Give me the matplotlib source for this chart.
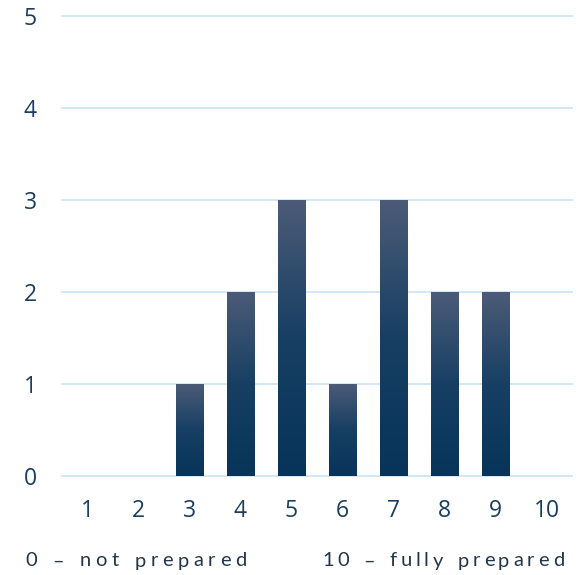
#!/usr/bin/env python3
from __future__ import annotations

import matplotlib

matplotlib.use("Agg")

import matplotlib.pyplot as plt
import numpy as np
from matplotlib.colors import LinearSegmentedColormap
from matplotlib.patches import Rectangle


RATINGS = [1, 2, 3, 4, 5, 6, 7, 8, 9, 10]
COUNTS = [0, 0, 1, 2, 3, 1, 3, 2, 2, 0]
Y_TICKS = [0, 1, 2, 3, 4, 5]
LOW_LABEL = "0 – not prepared"
HIGH_LABEL = "10 – fully prepared"

TEXT_COLOR = "#1b3d5e"
NOTE_COLOR = "#23364b"
GRID_COLOR = "#cfe5f6"
BAR_CMAP = LinearSegmentedColormap.from_list(
    "bar_fade", [(0.0, "#07345a"), (0.5, "#173f63"), (1.0, "#4b5b77")]
)


def gradient_bar(ax, x: float, height: float, width: float) -> None:
    if height <= 0:
        return
    rect = Rectangle((x - width / 2, 0), width, height, facecolor="none",
                     edgecolor="none")
    ax.add_patch(rect)
    grad = np.linspace(0, 1, 256).reshape(-1, 1)
    im = ax.imshow(grad, cmap=BAR_CMAP, origin="lower", aspect="auto",
                   extent=(x - width / 2, x + width / 2, 0, height),
                   interpolation="bilinear", zorder=3)
    im.set_clip_path(rect)


def spaced_text(fig, x_px: float, y_px: float, s: str, tracking: float, **kw) -> None:
    # draw character by character so the letter spacing can be widened
    renderer = fig.canvas.get_renderer()
    W, H = fig.bbox.width, fig.bbox.height
    cursor = x_px
    for ch in s:
        t = fig.text(cursor / W, 1 - y_px / H, ch, ha="left", va="center", **kw)
        w = t.get_window_extent(renderer=renderer).width
        if ch == " ":
            w = kw.get("fontsize", 12) * 0.45
        cursor += w + tracking


def make_plot(path: str) -> None:
    fig = plt.figure(figsize=(5.84, 5.75), dpi=100)
    ax = fig.add_axes((62 / 584, 99 / 575, 510 / 584, 460 / 575))

    for y in Y_TICKS:
        ax.axhline(y, color=GRID_COLOR, linewidth=1.3, zorder=1, clip_on=False)

    for r, c in zip(RATINGS, COUNTS):
        gradient_bar(ax, r, c, 0.53)

    ax.set_xlim(0.5, 10.5)
    ax.set_ylim(0, 5)
    ax.set_xticks(RATINGS)
    ax.set_yticks(Y_TICKS)
    ax.tick_params(axis="both", length=0, labelsize=16.5, labelcolor=TEXT_COLOR)
    ax.tick_params(axis="x", pad=16.5)
    ax.tick_params(axis="y", pad=18)
    for lbl in ax.get_xticklabels() + ax.get_yticklabels():
        lbl.set_fontfamily("Open Sans")
    for side in ax.spines.values():
        side.set_visible(False)

    spaced_text(fig, 25, 561, LOW_LABEL, 4.6, fontsize=14.5, color=NOTE_COLOR,
                family="Lato")
    spaced_text(fig, 322, 561, HIGH_LABEL, 3.85, fontsize=14.5, color=NOTE_COLOR,
                family="Lato")

    fig.savefig(path, dpi=100)
    plt.close(fig)


def main() -> None:
    make_plot("out.png")


if __name__ == "__main__":
    main()
